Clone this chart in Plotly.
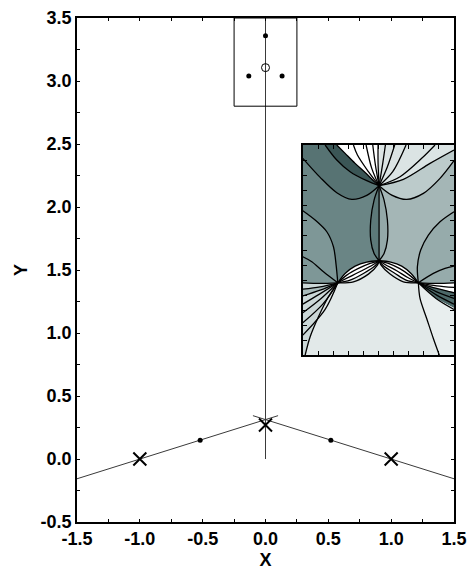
import plotly.graph_objects as go

# ---------------- main chart data ----------------
x_tick_vals = [-1.5, -1.0, -0.5, 0.0, 0.5, 1.0, 1.5]
x_tick_text = ["-1.5", "-1.0", "-0.5", "0.0", "0.5", "1.0", "1.5"]
y_tick_vals = [-0.5, 0.0, 0.5, 1.0, 1.5, 2.0, 2.5, 3.0, 3.5]
y_tick_text = ["-0.5", "0.0", "0.5", "1.0", "1.5", "2.0", "2.5", "3.0", "3.5"]

cross_x = [-1.0, 0.0, 1.0]
cross_y = [0.0, 0.27, 0.0]
dot_x = [-0.52, 0.52, -0.133, 0.132, 0.0]
dot_y = [0.149, 0.149, 3.04, 3.04, 3.36]
ring_x = [0.0]
ring_y = [3.106]
left_line_x = [-1.5, 0.1]
left_line_y = [-0.157, 0.344]
right_line_x = [1.5, -0.1]
right_line_y = [-0.157, 0.344]
stem_line_x = [0.0, 0.0]
stem_line_y = [0.0, 3.5]
box_x = [-0.25, 0.25, 0.25, -0.25, -0.25]
box_y = [3.5, 3.5, 2.8, 2.8, 3.5]

# ---------------- inset picture (inset units, y downward) ----------------
T = (237, 137)
M = (237, 362)
L = (113, 428)
R = (355, 428)

curve_a = [(75, 15), (110, 60), (150, 95), (200, 122), T]
curve_b = [(110, 15), (135, 40), (165, 70), (200, 102), (225, 127), T]
curve_d = [(8, 55), (60, 112), (110, 158), (155, 178), (200, 166), T]
curve_d_r = [T, (275, 165), (320, 178), (370, 160), (420, 115), (462, 62)]
curve_e = [(8, 212), (45, 240), (80, 275), (100, 320), (108, 375), L]
curve_e_r = [(462, 215), (420, 245), (385, 285), (362, 330), (352, 380), R]
lens_l = [T, (222, 180), (212, 240), (212, 300), (222, 340), M]
lens_r = [T, (252, 180), (262, 240), (262, 300), (252, 340), M]
stem = [T, M]

fan_t = [
    [T, (205, 95), (172, 45), (160, 15)],
    [T, (215, 85), (198, 15)],
    [T, (226, 75), (218, 15)],
    [T, (234, 70), (234, 15)],
    [T, (248, 70), (256, 15)],
    [T, (262, 80), (284, 15)],
    [T, (278, 95), (318, 15)],
    [T, (300, 110), (365, 55), (405, 15)],
    [T, (310, 118), (390, 70), (462, 30)],
]

arcs_lm = [
    [L, (135, 400), (165, 378), (200, 366), M],
    [L, (140, 405), (175, 385), (210, 370), M],
    [L, (145, 412), (185, 392), (220, 373), M],
    [L, (150, 420), (190, 400), (225, 377), M],
    [L, (160, 425), (205, 402), (232, 375), M],
]
arcs_mr = [
    [M, (272, 366), (305, 378), (333, 400), R],
    [M, (265, 370), (298, 385), (328, 405), R],
    [M, (255, 373), (290, 392), (323, 412), R],
    [M, (250, 377), (285, 400), (318, 420), R],
    [M, (243, 375), (270, 402), (310, 425), R],
]

fan_l = [
    [L, (60, 430), (8, 428)],
    [L, (60, 440), (8, 447)],
    [L, (60, 450), (8, 467)],
    [L, (58, 462), (8, 492)],
    [L, (62, 476), (8, 518)],
    [L, (68, 492), (8, 548)],
    [L, (75, 508), (8, 585)],
]
l_down = [L, (85, 470), (55, 530), (30, 590), (15, 645)]
l_up = [L, (70, 395), (35, 365), (8, 350)]

fan_r = [
    [R, (410, 430), (462, 428)],
    [R, (410, 437), (462, 442)],
    [R, (410, 445), (462, 458)],
    [R, (410, 455), (462, 475)],
    [R, (410, 465), (462, 492)],
    [R, (408, 475), (462, 508)],
]
r_down = [R, (360, 475), (380, 535), (400, 595), (418, 645)]
r_up = [R, (400, 400), (435, 385), (462, 378)]

inset_x_range = [8, 462]
inset_y_range = [645, 15]


def rev(p):
    return list(reversed(p))


regions = [
    ("#6a8585", [(0, 0), (237, 0), M] + rev(arcs_lm[0]) + [(0, 428)]),
    ("#a4b6b6", [(237, 0), (470, 0), (470, 428), R] + rev(arcs_mr[0]) + [M]),
    ("#e2e9e9", arcs_lm[3] + arcs_mr[3][1:] + r_down[1:] + [(418, 660), (15, 660)] + rev(l_down)),
    ("#cbd7d7", [L, (60, 430), (0, 428), (0, 660), (15, 660)] + rev(l_down)),
    ("#a9bbbb", [L, (60, 440), (0, 447), (0, 467), (60, 450), L]),
    ("#7e9797", [(0, 212)] + curve_e + [(60, 430), (0, 428)]),
    ("#577373", [(0, 0), (75, 0)] + curve_a + rev(curve_d) + [(0, 55)]),
    ("#3b5656", [(75, 0), (110, 0)] + curve_b + rev(curve_a)),
    ("#ffffff", [(110, 0), (240, 0)] + rev(curve_b)),
    ("#dbe4e4", [(240, 0), (470, 0), (470, 30), (390, 70), (310, 118), T]),
    ("#bccbcb", [T, (310, 118), (390, 70), (470, 30), (470, 62)] + rev(curve_d_r)),
    ("#96abab", [(470, 215)] + curve_e_r + [(410, 430), (470, 428)]),
    ("#5d7979", lens_l + rev(stem)),
    ("#93a8a8", lens_r + rev(stem)),
    ("#4c6868", [R, (410, 445), (470, 458), (470, 508), (408, 475), R]),
    ("#e8eeee", [R, (408, 475), (470, 508), (470, 660), (418, 660)] + rev(r_down)),
]

black_curves = ([curve_a, curve_b, curve_d, curve_d_r, curve_e, curve_e_r,
                 lens_l, lens_r, stem, l_down, l_up, r_down, r_up]
                + fan_t + arcs_lm + arcs_mr + fan_l + fan_r)

# ---------------- figure ----------------
fig = go.Figure()

thin = dict(color="#3a3a3a", width=1)
fig.add_trace(go.Scatter(x=left_line_x, y=left_line_y, mode="lines", line=thin))
fig.add_trace(go.Scatter(x=right_line_x, y=right_line_y, mode="lines", line=thin))
fig.add_trace(go.Scatter(x=stem_line_x, y=stem_line_y, mode="lines", line=thin))
fig.add_trace(go.Scatter(x=box_x, y=box_y, mode="lines", line=dict(color="black", width=1)))
fig.add_trace(go.Scatter(x=cross_x, y=cross_y, mode="markers",
                         marker=dict(symbol="x-thin", size=13, line=dict(color="black", width=2))))
fig.add_trace(go.Scatter(x=dot_x, y=dot_y, mode="markers",
                         marker=dict(symbol="circle", size=5, color="black")))
fig.add_trace(go.Scatter(x=ring_x, y=ring_y, mode="markers",
                         marker=dict(symbol="circle-open", size=8, color="black", line=dict(width=1))))

for color, pts in regions:
    fig.add_trace(go.Scatter(x=[p[0] for p in pts], y=[p[1] for p in pts], mode="lines",
                             fill="toself", fillcolor=color, line=dict(width=0),
                             xaxis="x2", yaxis="y2", hoverinfo="skip"))
for pts in black_curves:
    fig.add_trace(go.Scatter(x=[p[0] for p in pts], y=[p[1] for p in pts], mode="lines",
                             line=dict(color="black", width=1.3, shape="spline", smoothing=0.9),
                             xaxis="x2", yaxis="y2", hoverinfo="skip"))

axis_font = dict(family="Liberation Sans, Arial, sans-serif", size=18, color="black", weight="bold")
common = dict(showline=True, linecolor="black", linewidth=1.5, mirror="allticks",
              ticks="inside", ticklen=3, tickwidth=1, tickcolor="black",
              showgrid=False, zeroline=False, tickfont=axis_font, automargin=False,
              minor=dict(ticks="inside", ticklen=3, tickwidth=1, tickcolor="black", dtick=0.25))
inset_common = dict(showticklabels=False, ticks="inside", ticklen=4, tickcolor="black",
                    showline=True, linecolor="black", linewidth=1.5, automargin=False,
                    mirror="allticks", showgrid=False, zeroline=False)

fig.update_layout(
    width=468, height=570,
    margin=dict(l=77, r=14, t=18, b=48),
    paper_bgcolor="white", plot_bgcolor="white",
    showlegend=False,
    font=axis_font,
    xaxis=dict(range=[-1.5, 1.5], tickvals=x_tick_vals, ticktext=x_tick_text,
               title=dict(text="X", font=axis_font, standoff=6), **common),
    yaxis=dict(range=[-0.5, 3.5], tickvals=y_tick_vals, ticktext=y_tick_text,
               title=dict(text="Y", font=axis_font, standoff=8), **common),
    xaxis2=dict(domain=[0.599, 1.0], range=inset_x_range, anchor="y2",
                tick0=10, dtick=45, **inset_common),
    yaxis2=dict(domain=[0.331, 0.748], range=inset_y_range, anchor="x2",
                tick0=15, dtick=45, **inset_common),
)

fig.write_html("out.html", config={"displayModeBar": False},
               post_script="document.body.style.margin='0';")
